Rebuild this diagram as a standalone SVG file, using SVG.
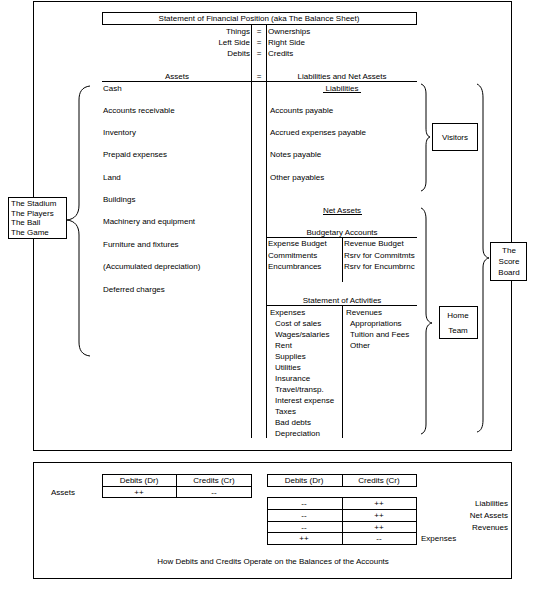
<svg xmlns="http://www.w3.org/2000/svg" width="536" height="592" viewBox="0 0 536 592">
<style>
text{font-family:"Liberation Sans",Arial,sans-serif;font-size:8px;fill:#000}
.m{text-anchor:middle}
.e{text-anchor:end}
.ln{stroke:#000;stroke-width:1;fill:none}
.br{stroke:#000;stroke-width:1;fill:none}
.bx{stroke:#000;stroke-width:1;fill:#fff}
</style>
<rect width="536" height="592" fill="#fff"/>
<g id="frame">
<rect class="ln" x="33.5" y="1.5" width="478" height="449"/>
<rect class="ln" x="33.5" y="462.5" width="478" height="116"/>
</g>
<g id="title">
<rect class="ln" x="102.5" y="12.5" width="314" height="12"/>
<text class="m" x="259" y="21">Statement of Financial Position (aka The Balance Sheet)</text>
</g>
<g id="lines">
<line class="ln" x1="251.5" y1="25" x2="251.5" y2="438"/>
<line class="ln" x1="266.5" y1="25" x2="266.5" y2="438"/>
<line class="ln" x1="102" y1="81.5" x2="417" y2="81.5"/>
<line class="ln" x1="267" y1="237.5" x2="417" y2="237.5"/>
<line class="ln" x1="342.5" y1="237" x2="342.5" y2="282"/>
<line class="ln" x1="267" y1="305.5" x2="417" y2="305.5"/>
<line class="ln" x1="342.5" y1="305" x2="342.5" y2="438"/>
</g>
<g id="equation">
<text class="e" x="250" y="34">Things</text><text class="m" x="259" y="34">=</text><text x="268" y="34">Ownerships</text>
<text class="e" x="250" y="45">Left Side</text><text class="m" x="259" y="45">=</text><text x="268" y="45">Right Side</text>
<text class="e" x="250" y="56">Debits</text><text class="m" x="259" y="56">=</text><text x="268" y="56">Credits</text>
<text class="m" x="177" y="79">Assets</text><text class="m" x="259" y="79">=</text><text class="m" x="342" y="79">Liabilities and Net Assets</text>
</g>
<g id="assets">
<text x="103" y="91">Cash</text>
<text x="103" y="113">Accounts receivable</text>
<text x="103" y="135">Inventory</text>
<text x="103" y="157">Prepaid expenses</text>
<text x="103" y="180">Land</text>
<text x="103" y="202">Buildings</text>
<text x="103" y="224">Machinery and equipment</text>
<text x="103" y="247">Furniture and fixtures</text>
<text x="103" y="269">(Accumulated depreciation)</text>
<text x="103" y="292">Deferred charges</text>
</g>
<g id="liabilities">
<text class="m" x="342" y="91">Liabilities</text>
<line class="ln" x1="323" y1="92.5" x2="361" y2="92.5"/>
<text x="270" y="113">Accounts payable</text>
<text x="270" y="135">Accrued expenses payable</text>
<text x="270" y="157">Notes payable</text>
<text x="270" y="180">Other payables</text>
</g>
<g id="net-assets">
<text class="m" x="342" y="213">Net Assets</text>
<line class="ln" x1="323" y1="214.5" x2="362" y2="214.5"/>
<text class="m" x="342" y="235">Budgetary Accounts</text>
<text x="268" y="246">Expense Budget</text>
<text x="268" y="258">Commitments</text>
<text x="268" y="269">Encumbrances</text>
<text x="344" y="246">Revenue Budget</text>
<text x="344" y="258">Rsrv for Commitmts</text>
<text x="344" y="269">Rsrv for Encumbrnc</text>
<text class="m" x="342" y="303">Statement of Activities</text>
<text x="270" y="315">Expenses</text>
<text x="275" y="326">Cost of sales</text>
<text x="275" y="337">Wages/salaries</text>
<text x="275" y="348">Rent</text>
<text x="275" y="359">Supplies</text>
<text x="275" y="370">Utilities</text>
<text x="275" y="381">Insurance</text>
<text x="275" y="392">Travel/transp.</text>
<text x="275" y="403">Interest expense</text>
<text x="275" y="414">Taxes</text>
<text x="275" y="425">Bad debts</text>
<text x="275" y="436">Depreciation</text>
<text x="346" y="315">Revenues</text>
<text x="350" y="326">Appropriations</text>
<text x="350" y="337">Tuition and Fees</text>
<text x="350" y="348">Other</text>
</g>
<g id="braces">
<path class="br" d="M90,86 C82,87 79,92 79,100 L79,205 C79,214 75,219 67,220 C75,221 79,226 79,235 L79,342 C79,350 82,355 90,356"/>
<path class="br" d="M421,84 C424,85 426,88 426,94 L426,128 C426,133 427,136 430,137 C427,138 426,141 426,146 L426,181 C426,187 424,190 421,191"/>
<path class="br" d="M477,84 C481,86 483,90 483,98 L483,248 C483,254 485,257 489,258 C485,259 483,262 483,268 L483,420 C483,427 481,431 477,432"/>
<path class="br" d="M421,208 C424,209 426,213 426,219 L426,313 C426,319 428,322 432,323 C428,324 426,327 426,333 L426,424 C426,430 424,433 421,434"/>
</g>
<g id="stadium">
<rect class="bx" x="8.5" y="197.5" width="58" height="41"/>
<text x="11" y="206">The Stadium</text>
<text x="11" y="216">The Players</text>
<text x="11" y="225">The Ball</text>
<text x="11" y="235">The Game</text>
</g>
<g id="visitors">
<rect class="bx" x="432.5" y="123.5" width="45" height="27"/>
<text class="m" x="455" y="140">Visitors</text>
</g>
<g id="scoreboard">
<rect class="bx" x="490.5" y="242.5" width="36" height="38"/>
<text class="m" x="509" y="253">The</text>
<text class="m" x="509" y="264">Score</text>
<text class="m" x="509" y="275">Board</text>
</g>
<g id="hometeam">
<rect class="bx" x="439.5" y="306.5" width="38" height="32"/>
<text class="m" x="458" y="318">Home</text>
<text class="m" x="458" y="333">Team</text>
</g>
<g id="table-left">
<rect class="ln" x="102.5" y="474.5" width="149" height="23"/>
<line class="ln" x1="102" y1="486.5" x2="252" y2="486.5"/>
<line class="ln" x1="176.5" y1="474" x2="176.5" y2="497"/>
<text class="m" x="139" y="483">Debits (Dr)</text>
<text class="m" x="214" y="483">Credits (Cr)</text>
<text class="m" x="139" y="495">++</text>
<text class="m" x="214" y="495">--</text>
<text class="m" x="63" y="495">Assets</text>
</g>
<g id="table-right">
<rect class="ln" x="267.5" y="474.5" width="149" height="12"/>
<line class="ln" x1="342.5" y1="474" x2="342.5" y2="486"/>
<text class="m" x="304" y="483">Debits (Dr)</text>
<text class="m" x="379" y="483">Credits (Cr)</text>
<rect class="ln" x="267.5" y="497.5" width="149" height="47"/>
<line class="ln" x1="267" y1="509.5" x2="417" y2="509.5"/>
<line class="ln" x1="267" y1="521.5" x2="417" y2="521.5"/>
<line class="ln" x1="267" y1="532.5" x2="417" y2="532.5"/>
<line class="ln" x1="342.5" y1="497" x2="342.5" y2="544"/>
<text class="m" x="304" y="506">--</text><text class="m" x="379" y="506">++</text>
<text class="m" x="304" y="518">--</text><text class="m" x="379" y="518">++</text>
<text class="m" x="304" y="530">--</text><text class="m" x="379" y="530">++</text>
<text class="m" x="304" y="541">++</text><text class="m" x="379" y="541">--</text>
<text class="e" x="508" y="506">Liabilities</text>
<text class="e" x="508" y="518">Net Assets</text>
<text class="e" x="508" y="530">Revenues</text>
<text x="421" y="541">Expenses</text>
<text class="m" x="273" y="564">How Debits and Credits Operate on the Balances of the Accounts</text>
</g>
</svg>
